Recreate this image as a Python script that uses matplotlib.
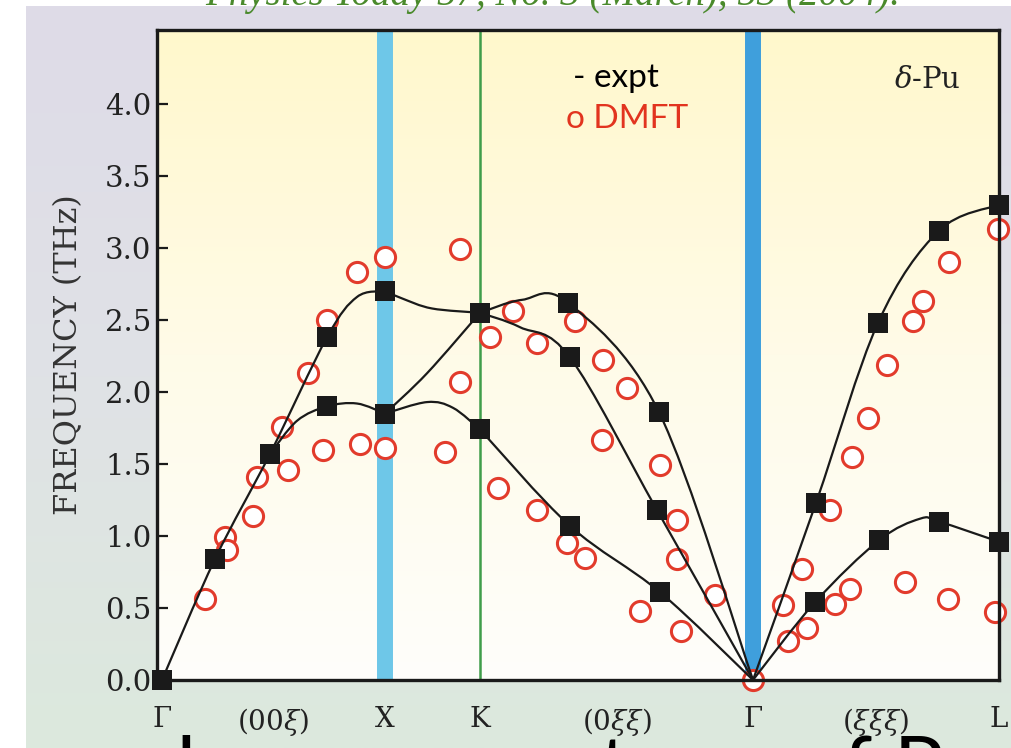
import numpy as np
import matplotlib
matplotlib.use('Agg')
import matplotlib.pyplot as plt
from matplotlib.path import Path
from matplotlib.patches import PathPatch
from matplotlib.colors import LinearSegmentedColormap

plt.rcParams['mathtext.fontset'] = 'dejavuserif'

# ---------------- data ----------------
# positions along the k-path (arbitrary path-length units)
sym_x = [0, 223, 318, 591, 837]
sym_labels = ['Γ', 'X', 'K', 'Γ', 'L']
dir_labels = [r'(00$\xi$)', r'(0$\xi\xi$)', r'($\xi\xi\xi$)']
y_ticks = [0.0, 0.5, 1.0, 1.5, 2.0, 2.5, 3.0, 3.5, 4.0]

# experiment (black squares)
expt_x = [0, 53, 108, 165, 223, 165, 223, 318, 318, 406, 408, 408, 497, 495, 498,
          654, 716, 777, 837, 653, 717, 777, 837]
expt_y = [0.0, 0.84, 1.57, 2.38, 2.70, 1.90, 1.85, 2.55, 1.74, 2.62, 2.24, 1.07, 1.86, 1.18, 0.61,
          1.23, 2.48, 3.12, 3.30, 0.54, 0.97, 1.10, 0.96]

# DMFT (red open circles)
dmft_x = [43, 63, 65, 91, 95, 120, 126, 146, 161, 165, 195, 198, 223, 223, 283,
          298, 298, 328, 336, 351, 375, 375, 405, 413, 423, 440, 441, 465, 478, 498,
          515, 515, 519, 553, 591, 621, 626, 640, 645, 668, 673, 688, 690, 706, 725,
          743, 751, 761, 786, 787, 833, 836]
dmft_y = [0.56, 0.99, 0.90, 1.14, 1.41, 1.76, 1.46, 2.13, 1.60, 2.50, 2.83, 1.64, 2.94, 1.61, 1.58,
          2.99, 2.07, 2.38, 1.33, 2.56, 2.34, 1.18, 0.95, 2.49, 0.85, 1.67, 2.22, 2.03, 0.48, 1.49,
          1.11, 0.84, 0.34, 0.59, 0.0, 0.52, 0.27, 0.77, 0.36, 1.18, 0.53, 0.63, 1.55, 1.82, 2.19,
          0.68, 2.49, 2.63, 0.56, 2.90, 0.47, 3.13]

# fitted dispersion curves
fit_gx_la_x = [0, 53, 108, 165, 195, 223]
fit_gx_la_y = [0.0, 0.84, 1.57, 2.38, 2.66, 2.70]
fit_gx_ta_x = [108, 135, 165, 195, 223]
fit_gx_ta_y = [1.57, 1.80, 1.90, 1.92, 1.85]
fit_xk_up_x = [223, 240, 270, 318]
fit_xk_up_y = [2.70, 2.65, 2.58, 2.55]
fit_xk_mid_x = [223, 265, 318]
fit_xk_mid_y = [1.85, 2.13, 2.55]
fit_xk_low_x = [223, 265, 291, 318]
fit_xk_low_y = [1.85, 1.93, 1.89, 1.74]
fit_kg_up_x = [318, 360, 406, 497, 591]
fit_kg_up_y = [2.55, 2.64, 2.62, 1.86, 0.0]
fit_kg_mid_x = [318, 358, 408, 495, 591]
fit_kg_mid_y = [2.55, 2.45, 2.24, 1.18, 0.0]
fit_kg_low_x = [318, 408, 498, 591]
fit_kg_low_y = [1.74, 1.07, 0.61, 0.0]
fit_gl_up_x = [591, 654, 716, 777, 837]
fit_gl_up_y = [0.0, 1.23, 2.48, 3.12, 3.30]
fit_gl_low_x = [591, 653, 717, 758, 777, 837]
fit_gl_low_y = [0.0, 0.54, 0.97, 1.12, 1.10, 0.96]

fits = [(fit_gx_la_x, fit_gx_la_y), (fit_gx_ta_x, fit_gx_ta_y),
        (fit_xk_up_x, fit_xk_up_y), (fit_xk_mid_x, fit_xk_mid_y), (fit_xk_low_x, fit_xk_low_y),
        (fit_kg_up_x, fit_kg_up_y), (fit_kg_mid_x, fit_kg_mid_y), (fit_kg_low_x, fit_kg_low_y),
        (fit_gl_up_x, fit_gl_up_y), (fit_gl_low_x, fit_gl_low_y)]


def smooth_path(xs, ys):
    P = np.column_stack([xs, ys]).astype(float)
    ext = np.vstack([P[0], P, P[-1]])
    verts = [P[0]]
    codes = [Path.MOVETO]
    for i in range(len(P) - 1):
        p0, p1, p2, p3 = ext[i], ext[i + 1], ext[i + 2], ext[i + 3]
        verts += [p1 + (p2 - p0) / 6.0, p2 - (p3 - p1) / 6.0, p2]
        codes += [Path.CURVE4] * 3
    return Path(verts, codes)


W, H = 1012, 748
fig = plt.figure(figsize=(W / 100, H / 100), dpi=100)
fig.patch.set_facecolor('white')

# slide background panel
bg = fig.add_axes([26 / W, 0, 1 - 26 / W, 1 - 6 / H], zorder=-10)
bg_cmap = LinearSegmentedColormap.from_list('bg', ['#dedbe8', '#e0e2e6', '#dce9dd'])
bg.imshow(np.linspace(0, 1, 256)[:, None], cmap=bg_cmap, aspect='auto', extent=[0, 1, 0, 1])
bg.set_axis_off()

# citation (cut off at the top)
fig.text(553 / W, 1 - 4.5 / H, 'Physics Today 57, No. 3 (March), 53 (2004).', color='#4a8a2c',
         family='Liberation Serif', style='italic', fontsize=28, ha='center', va='baseline')

# main axes
L, R, T, B = 157, 999, 30, 680
ax = fig.add_axes([L / W, 1 - B / H, (R - L) / W, (B - T) / H])
ax.set_xlim(-5, 837)
ax.set_ylim(0, (B - T) / 144.0)
ax.set_facecolor('white')
ax_cmap = LinearSegmentedColormap.from_list('axbg', ['#fefefb', '#fffbe8', '#fff8cc'])
ax.imshow(np.linspace(0, 1, 256)[:, None], cmap=ax_cmap, aspect='auto', origin='lower',
          extent=[-5, 837, 0, (B - T) / 144.0], zorder=0)

# symmetry-point bands
ax.axvline(sym_x[1], color='#6ec7e8', lw=11.5, zorder=1)
ax.axvline(sym_x[2], color='#3f9d4a', lw=1.8, zorder=1)
ax.axvline(sym_x[3], color='#3f9fdc', lw=11.5, zorder=1)

# DMFT circles
ax.plot(dmft_x, dmft_y, 'o', ms=14.5, mfc='white', mec='#e23b2c', mew=2.2, ls='none',
        zorder=3, clip_on=False)

# fitted curves
for fx, fy in fits:
    ax.add_patch(PathPatch(smooth_path(fx, fy), fill=False, ec='#1a1a1a', lw=1.6, zorder=4))

# experimental squares
ax.plot(expt_x, expt_y, 's', ms=14, mfc='#1a1a1a', mec='#1a1a1a', mew=0, ls='none',
        zorder=5, clip_on=False)

# axes styling
for s in ax.spines.values():
    s.set_linewidth(2.4)
    s.set_color('#1a1a1a')
    s.set_zorder(6)

ax.set_yticks(y_ticks)
ax.set_yticklabels(['%.1f' % v for v in y_ticks], family='DejaVu Serif', fontsize=21, color='#222222')
ax.tick_params(axis='y', direction='in', length=8, width=1.6, pad=4, color='#1a1a1a')

mids = [(sym_x[0] + sym_x[1]) / 2, (sym_x[2] + sym_x[3]) / 2, (sym_x[3] + sym_x[4]) / 2]
xt = sym_x + mids
xl = sym_labels + dir_labels
ax.set_xticks(xt)
ax.set_xticklabels(xl, family='DejaVu Serif', fontsize=20, color='#222222')
ax.tick_params(axis='x', length=0, pad=19)

ax.set_ylabel('FREQUENCY (THz)', family='DejaVu Serif', fontsize=23, color='#333333')
ax.yaxis.set_label_coords((84 - L) / (R - L), (B - 355) / (B - T))

# annotations
fig.text(573 / W, 1 - 87 / H, '- expt', family='Lato', fontsize=24, color='black', va='baseline')
fig.text(566 / W, 1 - 128 / H, 'o DMFT', family='Lato', fontsize=24, color='#e2341f', va='baseline')
fig.text(927 / W, 1 - 88 / H, r'$\delta$-Pu', family='DejaVu Serif', fontsize=21, color='#222222',
         ha='center', va='baseline')

# slide title below (cut off at the bottom)
fig.text(560 / W, -48 / H, 'phonon spectrum of Pu', family='Lato', fontsize=60, color='black',
         ha='center', va='baseline')

fig.savefig('out.png', dpi=100)
